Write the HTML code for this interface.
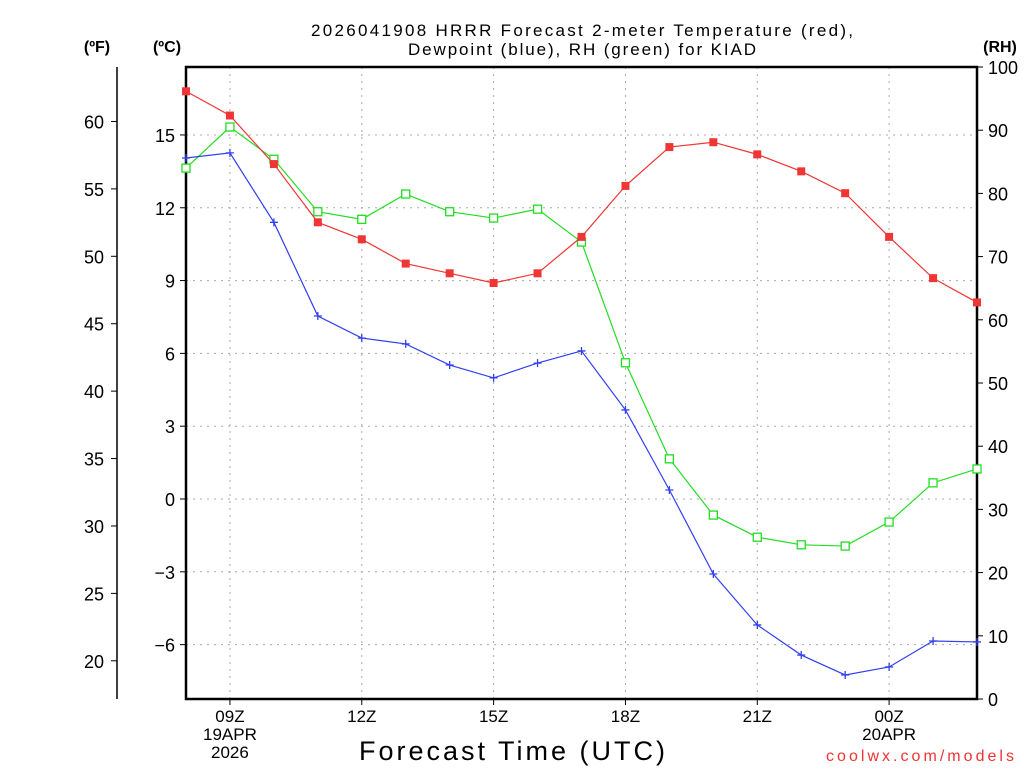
<!DOCTYPE html>
<html><head><meta charset="utf-8"><style>
body{margin:0;background:#fff;width:1024px;height:768px;overflow:hidden}
svg text{font-family:"Liberation Sans",sans-serif}
</style></head><body>
<svg id="chart" width="1024" height="768" xmlns="http://www.w3.org/2000/svg">
<text x="582" y="36" font-size="17" text-anchor="middle" textLength="542" lengthAdjust="spacing">2026041908 HRRR Forecast 2-meter Temperature (red),</text>
<text x="582" y="55" font-size="17" text-anchor="middle" textLength="348" lengthAdjust="spacing">Dewpoint (blue), RH (green) for KIAD</text>
<text x="97" y="52" font-size="16" font-weight="bold" text-anchor="middle">(ºF)</text>
<text x="167" y="52" font-size="16" font-weight="bold" text-anchor="middle">(ºC)</text>
<text x="1000" y="52" font-size="16" font-weight="bold" text-anchor="middle">(RH)</text>
<text x="512" y="760" font-size="27" text-anchor="middle" textLength="306" lengthAdjust="spacing">Forecast Time (UTC)</text>
<text x="920" y="761" font-size="16" fill="#e33" text-anchor="middle" textLength="188" lengthAdjust="spacing">coolwx.com/models</text>
<g id="grid"></g><g id="axes"></g><g id="series"></g>
</svg>
<script>
const hours=[0,1,2,3,4,5,6,7,8,9,10,11,12,13,14,15,16,17,18]; // hours after 08Z
const tempC=[16.8,15.8,13.8,11.4,10.7,9.7,9.3,8.9,9.3,10.8,12.9,14.5,14.7,14.2,13.5,12.6,10.8,9.1,8.1];
const dewC=[14.05,14.26,11.4,7.54,6.63,6.39,5.52,4.99,5.6,6.1,3.67,0.37,-3.09,-5.19,-6.43,-7.25,-6.92,-5.85,-5.89];
const rh=[84.0,90.5,85.4,77.1,75.9,79.9,77.1,76.1,77.5,72.3,53.2,38.0,29.1,25.6,24.4,24.2,28.0,34.2,36.4];
const cTicks=[-6,-3,0,3,6,9,12,15];
const fTicks=[20,25,30,35,40,45,50,55,60];
const rhTicks=[0,10,20,30,40,50,60,70,80,90,100];
const xTickHours=[1,4,7,10,13,16];
const xTickLabels=[["09Z","19APR","2026"],["12Z"],["15Z"],["18Z"],["21Z"],["00Z","20APR"]];
const L=186,R=977,T=67,B=699;
const xs=h=>L+h*(R-L)/18;
const yC=c=>499-c*24.27;
const yF=f=>yC((f-32)*5/9);
const yRH=r=>B-r*(B-T)/100;
const NS="http://www.w3.org/2000/svg";
function mk(p,tag,at,txt){const e=document.createElementNS(NS,tag);for(const k in at)e.setAttribute(k,at[k]);if(txt!==undefined)e.textContent=txt;p.appendChild(e);return e;}
const grid=document.getElementById('grid'),axes=document.getElementById('axes'),ser=document.getElementById('series');
cTicks.forEach(c=>{const y=yC(c);
 const g=mk(grid,'line',{x1:L,x2:R,y1:y,y2:y,stroke:'#aaa','stroke-dasharray':'2,5'});
 
 
 mk(axes,'line',{x1:L-6,x2:L,y1:y,y2:y,stroke:'#000'});
 const t=mk(axes,'text',{x:L-11,y:y+7,'font-size':18,'text-anchor':'end'},c<0?'\u2212'+(-c):String(c));
 
 });
fTicks.forEach(f=>{const y=yF(f);
 mk(axes,'line',{x1:111,x2:117,y1:y,y2:y,stroke:'#000'});
 const t=mk(axes,'text',{x:104,y:y+7,'font-size':18,'text-anchor':'end'},String(f));
 
 });
mk(axes,'line',{x1:117,x2:117,y1:T,y2:B,stroke:'#000','stroke-width':1.5});
rhTicks.forEach(r=>{const y=yRH(r);
 mk(axes,'line',{x1:R,x2:R+6,y1:y,y2:y,stroke:'#000'});
 const t=mk(axes,'text',{x:988,y:y+7,'font-size':18},String(r));
 
 });
xTickHours.forEach((h,i)=>{const x=xs(h);
 const g=mk(grid,'line',{x1:x,x2:x,y1:T,y2:B,stroke:'#aaa','stroke-dasharray':'2,5'});
 
 
 mk(axes,'line',{x1:x,x2:x,y1:B,y2:B+6,stroke:'#000'});
 xTickLabels[i].forEach((s,j)=>{const t=mk(axes,'text',{x:x,y:B+23+j*18,'font-size':17,'text-anchor':'middle'},s);
  
  });});
const fr=mk(axes,'rect',{x:L,y:T,width:R-L,height:B-T,fill:'none',stroke:'#000','stroke-width':2.5});


function line(vals,yf,col,name,marker){
 const pts=vals.map((v,i)=>xs(hours[i])+','+yf(v)).join(' ');
 const pl=mk(ser,'polyline',{points:pts,fill:'none',stroke:col,'stroke-width':1.2});
 
 
 vals.forEach((v,i)=>{const x=xs(hours[i]),y=yf(v);let m;
  if(marker==='fill')m=mk(ser,'rect',{x:x-4,y:y-4,width:8,height:8,fill:col});
  else if(marker==='open')m=mk(ser,'rect',{x:x-4,y:y-4,width:8,height:8,fill:'#fff',stroke:col,'stroke-width':1.3});
  else m=mk(ser,'path',{d:`M${x-4},${y}H${x+4}M${x},${y-4}V${y+4}`,stroke:col,'stroke-width':1.3});
  
  });}
line(rh,yRH,'#22dd22','rh','open');
line(tempC,yC,'#f03535','temperature','fill');
line(dewC,yC,'#3040f0','dewpoint','plus');
</script>
</body></html>
